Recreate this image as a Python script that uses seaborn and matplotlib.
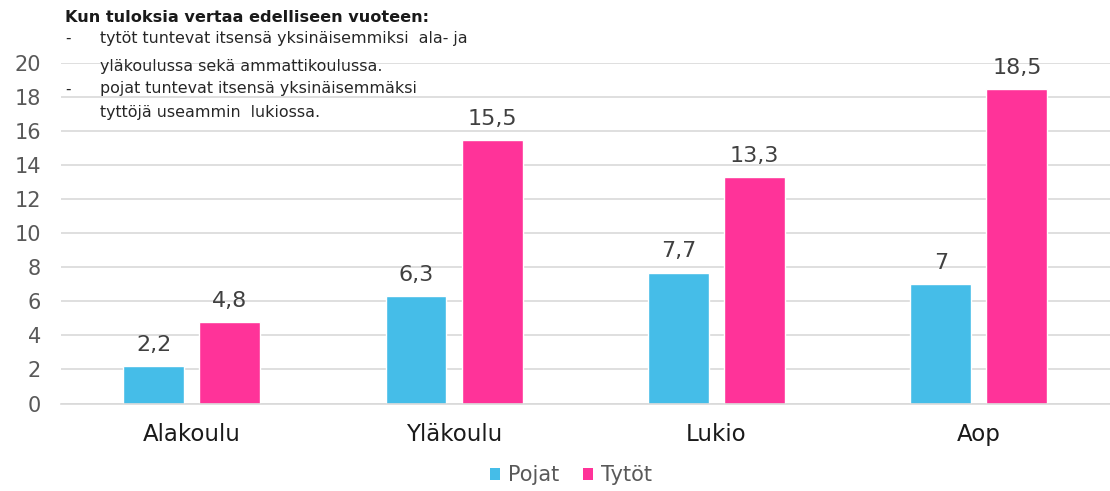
import matplotlib
matplotlib.use("Agg")
import matplotlib.pyplot as plt
import seaborn as sns
import pandas as pd
from matplotlib.patches import Patch

categories = ["Alakoulu", "Yläkoulu", "Lukio", "Aop"]
series_names = ["Pojat", "Tytöt"]
pojat = [2.2, 6.3, 7.7, 7.0]
tytot = [4.8, 15.5, 13.3, 18.5]
yticks = [0, 2, 4, 6, 8, 10, 12, 14, 16, 18, 20]
colors = ["#45BDE8", "#FF3399"]

note_title = "Kun tuloksia vertaa edelliseen vuoteen:"
note_lines = [
    ("-", "tytöt tuntevat itsensä yksinäisemmiksi  ala- ja"),
    ("", "yläkoulussa sekä ammattikoulussa."),
    ("-", "pojat tuntevat itsensä yksinäisemmäksi"),
    ("", "tyttöjä useammin  lukiossa."),
]

df = pd.DataFrame({
    "kategoria": categories * 2,
    "sarja": [series_names[0]] * 4 + [series_names[1]] * 4,
    "arvo": pojat + tytot,
})

sns.set_theme(style="white")
plt.rcParams["font.family"] = ["DejaVu Sans"]

W, H = 1110, 491
fig = plt.figure(figsize=(W / 100, H / 100), dpi=100)
ax = fig.add_axes([60.5 / W, 1 - 403.5 / H, (W - 60.5) / W, (403.5 - 63.3) / H])

sns.barplot(data=df, x="kategoria", y="arvo", hue="sarja", palette=colors,
            width=0.58, gap=0.2, ax=ax, legend=False, saturation=1)

ax.set_ylim(0, 20)
ax.set_xlim(-0.5, 3.5)
ax.set_yticks(yticks)
ax.set_yticklabels([str(v) for v in yticks])
ax.yaxis.grid(True, color="#D9D9D9", linewidth=1.2)
ax.set_axisbelow(True)
for s in ["top", "right", "left"]:
    ax.spines[s].set_visible(False)
ax.spines["bottom"].set_color("#D9D9D9")
ax.spines["bottom"].set_linewidth(1.2)
ax.tick_params(axis="y", length=0, pad=14, labelsize=15, labelcolor="#595959")
ax.tick_params(axis="x", length=0, pad=14, labelsize=16.5, labelcolor="#1a1a1a")
ax.set_xlabel("")
ax.set_ylabel("")

def fmt(v):
    return (f"{v:.1f}".rstrip("0").rstrip(".")).replace(".", ",")

for cont in ax.containers:
    for bar in cont:
        h = bar.get_height()
        ax.annotate(fmt(h), (bar.get_x() + bar.get_width() / 2, h),
                    xytext=(0, 11), textcoords="offset points",
                    ha="center", va="baseline", fontsize=16, color="#404040")

# annotation note
fig.text(65 / W, 1 - 18 / H, note_title, fontsize=11.6, fontweight="bold",
         color="#1a1a1a", va="center", ha="left")
ys = [38, 67, 89, 113]
for (dash, txt), y in zip(note_lines, ys):
    if dash:
        fig.text(65 / W, 1 - y / H, dash, fontsize=11, color="#262626", va="center")
    fig.text(100 / W, 1 - y / H, txt, fontsize=11.4, color="#262626", va="center")

# legend
handles = [Patch(facecolor=c, edgecolor="none") for c in colors]
fig.legend(handles, series_names, loc="center", bbox_to_anchor=(571 / W, 1 - 475 / H),
           ncol=2, frameon=False, fontsize=15, handlelength=0.5, handleheight=0.5,
           handletextpad=0.4, columnspacing=1.1, labelcolor="#595959")

fig.savefig("out.png", dpi=100)
